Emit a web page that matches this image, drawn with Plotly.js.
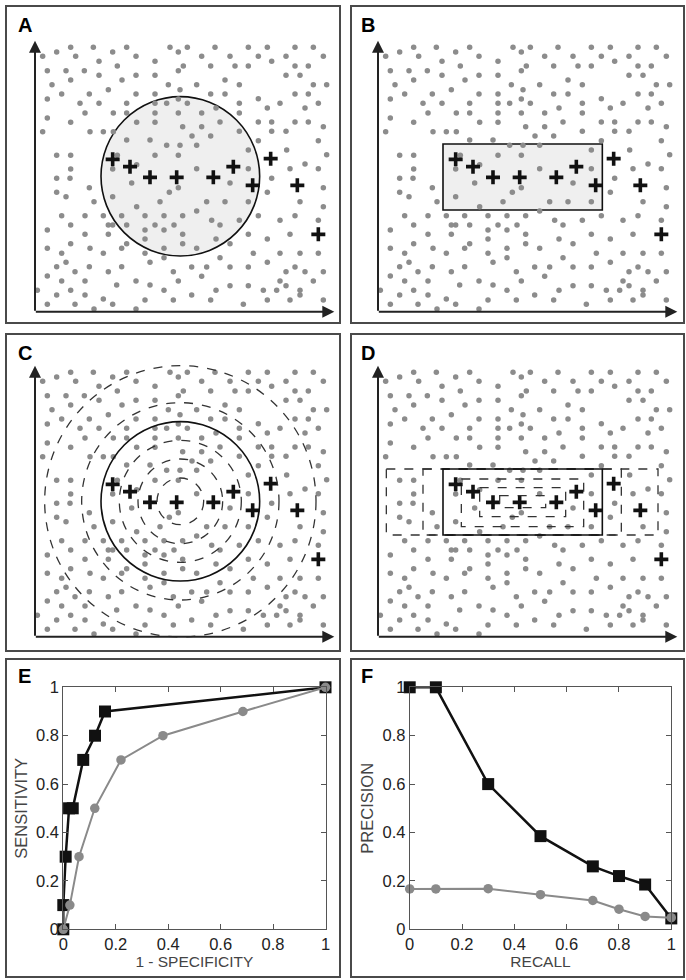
<!DOCTYPE html>
<html><head><meta charset="utf-8">
<script src="https://cdn.plot.ly/plotly-3.0.1.min.js"></script>
<style>html,body{margin:0;padding:0;background:#fff}#chart{width:686px;height:980px}</style>
</head><body><div id="chart"></div>
<script>
// Background sample points (panel units)
const dotsX = [212,280,380,510,170,338,535,128,227,408,297,465,352,142,198,253,535,297,408,465,212,366,156,505,325,540,185,268,408,465,142,535,240,297,380,500,465,255,340,380,465,535,142,212,410,465,128,270,310,340,380,450,500,540,170,212,352,465,535,410,212,338,
562,645,745,802,885,940,605,690,775,858,970,550,632,705,745,815,885,925,858,900,675,590,718,940,980,632,675,775,885,925,562,648,718,802,840,915,955,605,718,660,775,815,885,925,970,548,605,718,815,858,576,632,775,955,590,860,745,980,590,745,870,915,955,
170,210,170,198,268,282,338,395,410,480,508,535,185,255,310,338,365,380,435,465,492,522,548,142,212,325,325,255,435,435,492,548,380,365,142,212,270,185,310,435,492,548,450,492,170,198,268,365,142,185,225,255,325,408,450,520,535,112,170,212,255,350,492,142,225,310,338,435,520,282,408,
815,970,690,802,900,620,675,745,970,590,775,635,660,718,840,885,955,745,802,870,648,690,590,760,840,900,955,660,802,575,620,690,745,885,858,915,970,605,840,690,745,858,940,900,648,790,830,575,632,730,802,870,900,970];
const dotsY = [142,142,142,142,156,156,156,169,169,169,184,184,198,212,212,212,212,226,226,226,240,240,254,254,269,269,282,282,282,282,297,297,310,310,310,310,310,339,339,339,339,339,354,367,367,367,395,395,395,395,420,420,436,436,466,466,466,466,466,494,507,507,
142,142,142,142,142,142,169,169,169,169,169,198,198,198,198,184,198,198,226,226,240,254,254,254,254,282,282,296,282,282,310,324,310,324,310,324,310,339,339,366,366,366,366,366,380,380,380,394,394,394,408,408,422,422,436,450,450,464,506,506,506,492,506,
535,535,577,590,563,605,590,549,620,605,577,563,647,647,647,675,647,675,647,675,647,675,647,690,675,675,703,703,690,717,690,703,731,745,745,731,745,760,760,760,745,731,787,773,800,787,800,800,828,843,815,843,815,843,855,815,843,871,885,871,885,855,871,913,913,897,913,900,900,927,927,
535,563,549,577,605,605,605,605,620,633,647,661,675,661,661,647,661,703,717,703,717,731,745,760,760,760,760,773,787,801,801,801,801,801,815,815,815,829,843,857,857,857,843,871,871,871,871,885,900,913,900,900,885,900];
// Highlighted "+" points
const plusX = [338,390,450,530,640,700,758,812,892,955];
const plusY = [478,500,532,532,532,500,556,476,556,703];

// Panel E: ROC curves
const rocBlackX = [0,0,0.009,0.022,0.036,0.076,0.121,0.159,1];
const rocBlackY = [0,0.1,0.3,0.5,0.5,0.7,0.8,0.9,1];
const rocGrayX = [0,0.025,0.06,0.12,0.22,0.38,0.685,1];
const rocGrayY = [0,0.1,0.3,0.5,0.7,0.8,0.9,1];
// Panel F: precision-recall curves
const prBlackX = [0,0.1,0.3,0.5,0.7,0.8,0.9,1];
const prBlackY = [1,1,0.6,0.385,0.26,0.22,0.185,0.045];
const prGrayX = [0,0.1,0.3,0.5,0.7,0.8,0.9,1];
const prGrayY = [0.167,0.167,0.168,0.143,0.119,0.083,0.053,0.048];
const tickVals = [0,0.2,0.4,0.6,0.8,1];
const tickText = ['0','0.2','0.4','0.6','0.8','1'];
const panelLetters = ['A','B','C','D','E','F'];

const W = 686, H = 980;
const px = v => v / W, py = v => 1 - v / H;
const FONT = 'Liberation Sans, Arial, sans-serif';
const DOT = '#8c8c8c';

const data = [];
const sub = ['', '2', '3', '4'];
sub.forEach(s => {
  data.push({x: dotsX, y: dotsY, xaxis: 'x' + s, yaxis: 'y' + s, type: 'scatter', mode: 'markers',
    marker: {size: 5.5, color: DOT}, hoverinfo: 'skip'});
  data.push({x: plusX, y: plusY, xaxis: 'x' + s, yaxis: 'y' + s, type: 'scatter', mode: 'markers',
    marker: {symbol: 'cross-thin', size: 10, line: {width: 3.6, color: '#111'}}, hoverinfo: 'skip'});
});
data.push({x: rocBlackX, y: rocBlackY, xaxis: 'x5', yaxis: 'y5', type: 'scatter', mode: 'lines+markers',
  line: {color: '#111', width: 2.5}, marker: {symbol: 'square', size: 12, color: '#111'}, cliponaxis: false});
data.push({x: rocGrayX, y: rocGrayY, xaxis: 'x5', yaxis: 'y5', type: 'scatter', mode: 'lines+markers',
  line: {color: '#8a8a8a', width: 2}, marker: {symbol: 'circle', size: 9.5, color: '#8a8a8a'}, cliponaxis: false});
data.push({x: prBlackX, y: prBlackY, xaxis: 'x6', yaxis: 'y6', type: 'scatter', mode: 'lines+markers',
  line: {color: '#111', width: 2.5}, marker: {symbol: 'square', size: 12, color: '#111'}, cliponaxis: false});
data.push({x: prGrayX, y: prGrayY, xaxis: 'x6', yaxis: 'y6', type: 'scatter', mode: 'lines+markers',
  line: {color: '#8a8a8a', width: 2}, marker: {symbol: 'circle', size: 9.5, color: '#8a8a8a'}, cliponaxis: false});

const hidden = (dom) => ({domain: dom, range: [0, 1029], visible: false, fixedrange: true});
const hiddenY = (dom) => ({domain: dom, range: [975, 0], visible: false, fixedrange: true});
const topY = [py(325), 1], midY = [py(650), py(325)];

const realAxis = (dom, title, standoff, tsize) => ({
  domain: dom, range: [0, 1], tickvals: tickVals, ticktext: tickText, ticks: 'inside', ticklen: 5,
  tickcolor: '#555', showline: true, linecolor: '#555', linewidth: 1, mirror: 'ticks',
  showgrid: false, zeroline: false, tickfont: {family: FONT, size: 16.5, color: '#222'},
  title: {text: title, font: {family: FONT, size: tsize, color: '#444'}, standoff: standoff}, fixedrange: true
});

const layout = {
  width: W, height: H, margin: {l: 0, r: 0, t: 0, b: 0}, showlegend: false,
  paper_bgcolor: '#fff', plot_bgcolor: 'rgba(0,0,0,0)',
  xaxis: hidden([0, 0.5]), yaxis: hiddenY(topY),
  xaxis2: hidden([0.5, 1]), yaxis2: hiddenY(topY),
  xaxis3: hidden([0, 0.5]), yaxis3: hiddenY(midY),
  xaxis4: hidden([0.5, 1]), yaxis4: hiddenY(midY),
  xaxis5: realAxis([px(63.3), px(325.5)], '1 - SPECIFICITY', 3, 15.5),
  yaxis5: realAxis([py(929.3), py(687.3)], 'SENSITIVITY', 4, 16.5),
  xaxis6: realAxis([px(409.7), px(671.3)], 'RECALL', 3, 15.5),
  yaxis6: realAxis([py(929.3), py(687.3)], 'PRECISION', 4, 16.5),
  shapes: [], annotations: []
};
layout.xaxis5.anchor = 'y5'; layout.yaxis5.anchor = 'x5';
layout.xaxis6.anchor = 'y6'; layout.yaxis6.anchor = 'x6';

// panel frames
const cols = [[6, 340], [351, 684]], rows = [[6, 323], [334, 651], [659, 977]];
rows.forEach(r => cols.forEach(c => layout.shapes.push({type: 'rect', xref: 'paper', yref: 'paper',
  x0: px(c[0]), x1: px(c[1]), y0: py(r[1]), y1: py(r[0]), line: {color: '#4a4a4a', width: 2}})));

const CX = 541, CY = 529;
// A: filled circle
layout.shapes.push({type: 'circle', xref: 'x', yref: 'y', x0: CX - 238, x1: CX + 238, y0: CY - 239, y1: CY + 239,
  fillcolor: '#efefef', line: {color: '#111', width: 1.6}, layer: 'below'});
// B: filled rectangle
layout.shapes.push({type: 'rect', xref: 'x2', yref: 'y2', x0: 300, x1: 778, y0: 432, y1: 630,
  fillcolor: '#efefef', line: {color: '#111', width: 1.6}, layer: 'below'});
// C: circles
[70, 127, 183, 296, 407].forEach(r => layout.shapes.push({type: 'circle', xref: 'x3', yref: 'y3',
  x0: CX - r, x1: CX + r, y0: CY - r, y1: CY + r, line: {color: '#333', width: 1.3, dash: 'dash'}}));
layout.shapes.push({type: 'circle', xref: 'x3', yref: 'y3', x0: CX - 238, x1: CX + 238, y0: CY - 239, y1: CY + 239,
  line: {color: '#111', width: 1.6}});
// D: rectangles
[[130, 945, 432, 630], [240, 835, 432, 630], [355, 722, 462, 605], [410, 668, 488, 575], [470, 608, 512, 548]]
  .forEach(b => layout.shapes.push({type: 'rect', xref: 'x4', yref: 'y4', x0: b[0], x1: b[1], y0: b[2], y1: b[3],
    line: {color: '#333', width: 1.3, dash: 'dash'}}));
layout.shapes.push({type: 'rect', xref: 'x4', yref: 'y4', x0: 300, x1: 778, y0: 432, y1: 630,
  line: {color: '#111', width: 1.6}});

// arrows (axes) in A-D
sub.forEach(s => {
  layout.annotations.push({xref: 'x' + s, yref: 'y' + s, axref: 'x' + s, ayref: 'y' + s, x: 105, y: 122, ax: 105, ay: 937,
    text: '', showarrow: true, arrowhead: 2, arrowsize: 1.2, arrowwidth: 2, arrowcolor: '#222'});
  layout.annotations.push({xref: 'x' + s, yref: 'y' + s, axref: 'x' + s, ayref: 'y' + s, x: 1003, y: 935, ax: 103, ay: 935,
    text: '', showarrow: true, arrowhead: 2, arrowsize: 1.2, arrowwidth: 2, arrowcolor: '#222'});
});

// panel letters
const letterPos = [[16, 25], [359, 25], [16, 353], [359, 353], [16, 676], [359, 676]];
panelLetters.forEach((t, i) => layout.annotations.push({xref: 'paper', yref: 'paper', x: px(letterPos[i][0]), y: py(letterPos[i][1]),
  xanchor: 'left', yanchor: 'middle', showarrow: false, text: '<b>' + t + '</b>', font: {family: FONT, size: 20, color: '#000'}}));

Plotly.newPlot('chart', data, layout, {staticPlot: true});
</script></body></html>
